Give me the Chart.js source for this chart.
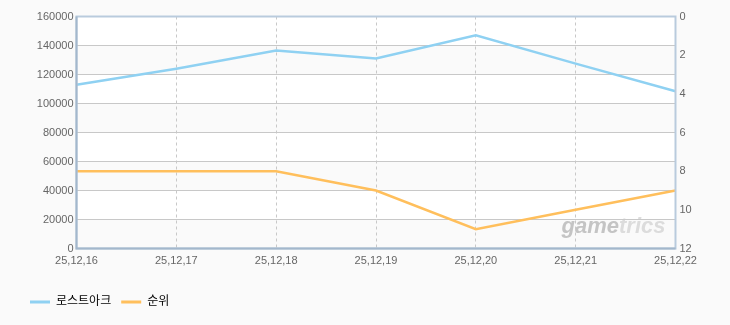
<!DOCTYPE html>
<html>
<head>
<meta charset="utf-8">
<script src="https://cdn.jsdelivr.net/npm/chart.js@4"></script>
<style>
    html, body { margin: 0; padding: 0; background: #fafafa; }
    #wrap { width: 730px; height: 325px; position: relative; }
</style>
</head>
<body>
<div id="wrap"><canvas id="rankChart"></canvas></div>
<script>
// Chart data
const dateLabels = ['25,12,16', '25,12,17', '25,12,18', '25,12,19', '25,12,20', '25,12,21', '25,12,22'];
const lostarkValues = [113000, 124000, 136500, 131000, 147000, 127500, 108500];
const rankValues = [8, 8, 8, 9, 11, 10, 9];
const seriesNames = ['로스트아크', '순위'];

const FONT = '"Liberation Sans", "Noto Sans CJK KR", sans-serif';

// white plot area with alternating grey bands, watermark, frame
const bandPlugin = {
    id: 'bands',
    beforeDraw(chart) {
        const { ctx, chartArea } = chart;
        const y = chart.scales.y;
        ctx.save();
        ctx.fillStyle = '#ffffff';
        ctx.fillRect(chartArea.left, chartArea.top, chartArea.right - chartArea.left, chartArea.bottom - chartArea.top);
        for (let i = 0; i < y.ticks.length - 1; i += 2) {
            const top = y.getPixelForValue(y.ticks[i + 1].value);
            const bottom = y.getPixelForValue(y.ticks[i].value);
            ctx.fillStyle = '#fafafa';
            ctx.fillRect(chartArea.left, top, chartArea.right - chartArea.left, bottom - top);
        }
        // watermark
        ctx.font = 'italic bold 22px ' + FONT;
        ctx.textBaseline = 'alphabetic';
        const gw = ctx.measureText('game').width;
        const tw = ctx.measureText('trics').width;
        const wx = chartArea.right - 10 - gw - tw;
        const wy = chartArea.bottom - 16;
        ctx.fillStyle = '#c4c4c4';
        ctx.fillText('game', wx, wy);
        ctx.fillStyle = '#dcdcdc';
        ctx.fillText('trics', wx + gw, wy);
        ctx.restore();
    },
    afterDraw(chart) {
        const { ctx, chartArea } = chart;
        ctx.save();
        ctx.strokeStyle = '#b9cbdd';
        ctx.lineWidth = 2;
        ctx.strokeRect(chartArea.left, chartArea.top, chartArea.right - chartArea.left, chartArea.bottom - chartArea.top);
        ctx.strokeStyle = '#a3b7cc';
        ctx.beginPath();
        ctx.moveTo(chartArea.left, chartArea.top);
        ctx.lineTo(chartArea.left, chartArea.bottom);
        ctx.lineTo(chartArea.right, chartArea.bottom);
        ctx.stroke();
        ctx.restore();
    }
};

new Chart(document.getElementById('rankChart').getContext('2d'), {
    type: 'line',
    data: {
        labels: dateLabels,
        datasets: [
            {
                label: seriesNames[0],
                data: lostarkValues,
                borderColor: '#8fd1f2',
                backgroundColor: '#8fd1f2',
                borderWidth: 2.5,
                pointRadius: 0,
                tension: 0,
                yAxisID: 'y'
            },
            {
                label: seriesNames[1],
                data: rankValues,
                borderColor: '#ffbf5c',
                backgroundColor: '#ffbf5c',
                borderWidth: 2.5,
                pointRadius: 0,
                tension: 0,
                yAxisID: 'y1'
            }
        ]
    },
    options: {
        responsive: true,
        maintainAspectRatio: false,
        animation: false,
        layout: { padding: { left: 20, right: 20, top: 16.5, bottom: 7 } },
        scales: {
            x: {
                offset: false,
                grid: { color: '#c8c8c8', drawTicks: false, tickLength: 0 },
                border: { display: false, dash: [3, 3] },
                ticks: { color: '#666', padding: 6, maxRotation: 0, autoSkip: false, font: { family: FONT, size: 11 } },
                afterFit(scale) { scale.height = 37.5; }
            },
            y: {
                position: 'left',
                min: 0,
                max: 160000,
                grid: { color: '#c8c8c8', drawTicks: false },
                border: { display: false },
                ticks: {
                    stepSize: 20000, color: '#666', padding: 3, font: { family: FONT, size: 11 },
                    callback: (v) => String(v)
                },
                afterFit(scale) { scale.width = 56.5; }
            },
            y1: {
                position: 'right',
                reverse: true,
                min: 0,
                max: 12,
                grid: { drawOnChartArea: false, drawTicks: false },
                border: { display: false },
                ticks: { stepSize: 2, color: '#666', padding: 4, font: { family: FONT, size: 11 } },
                afterFit(scale) { scale.width = 34.5; }
            }
        },
        plugins: {
            legend: {
                position: 'bottom',
                align: 'start',
                labels: {
                    boxWidth: 20,
                    boxHeight: 3,
                    padding: 10,
                    color: '#555',
                    font: { family: FONT, size: 12 },
                    generateLabels(chart) {
                        return chart.data.datasets.map((ds, i) => ({
                            text: ds.label,
                            fillStyle: ds.borderColor,
                            strokeStyle: ds.borderColor,
                            lineWidth: 0,
                            hidden: false,
                            datasetIndex: i
                        }));
                    }
                }
            },
            tooltip: { enabled: false }
        }
    },
    plugins: [bandPlugin]
});
</script>
</body>
</html>
